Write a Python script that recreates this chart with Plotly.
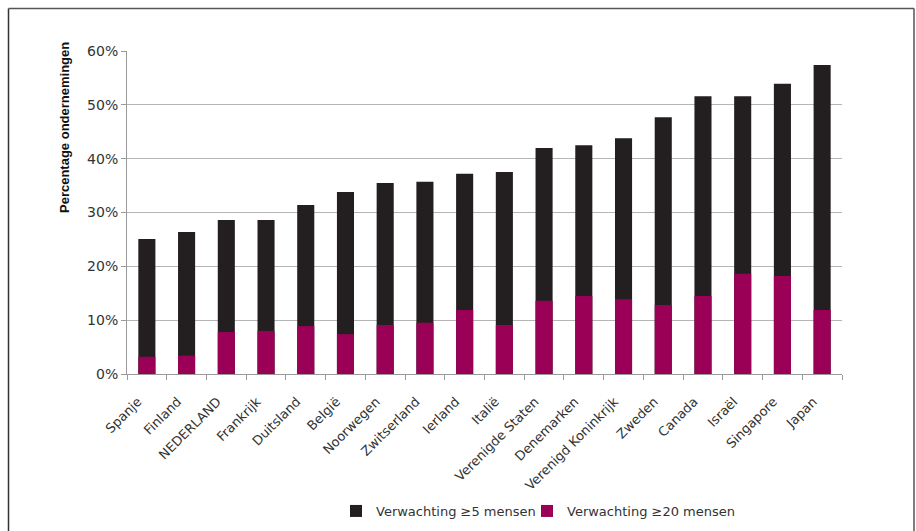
import plotly.graph_objects as go

landen = ["Spanje", "Finland", "NEDERLAND", "Frankrijk", "Duitsland", "België",
          "Noorwegen", "Zwitserland", "Ierland", "Italië", "Verenigde Staten",
          "Denemarken", "Verenigd Koninkrijk", "Zweden", "Canada", "Israël",
          "Singapore", "Japan"]
verw_5 = [25.1, 26.4, 28.6, 28.6, 31.4, 33.8, 35.5, 35.7, 37.2, 37.5, 42.0,
          42.5, 43.8, 47.7, 51.6, 51.6, 53.9, 57.4]
verw_20 = [3.2, 3.4, 7.8, 8.0, 8.9, 7.4, 9.1, 9.5, 11.9, 9.1, 13.6,
           14.5, 13.9, 12.8, 14.5, 18.6, 18.2, 11.9]
y_ticks = [0, 10, 20, 30, 40, 50, 60]
y_labels = ["0%", "10%", "20%", "30%", "40%", "50%", "60%"]

BLACK = "#231f20"
MAGENTA = "#9b0057"
FONT = "DejaVu Sans"

fig = go.Figure()
fig.add_trace(go.Bar(x=landen, y=verw_5, name="Verwachting ≥5 mensen",
                     marker=dict(color=BLACK, line=dict(width=0)),
                     legend="legend"))
fig.add_trace(go.Bar(x=landen, y=verw_20, name="Verwachting ≥20 mensen",
                     marker=dict(color=MAGENTA, line=dict(width=0)),
                     legend="legend2"))

W, H = 916, 531
# plot area in page pixels
PX0, PX1, PY0, PY1 = 127, 842, 51, 374
L, R, T, B = PX0, W - PX1, PY0, H - PY1
pw, ph = W - L - R, H - T - B


def px(x):
    return (x - PX0) / pw


def py(y):
    return (PY1 - y) / ph


leg_common = dict(orientation="h", xanchor="left", yanchor="middle",
                  font=dict(size=13, color="#333333"), itemwidth=30,
                  bgcolor="rgba(0,0,0,0)")

fig.update_layout(
    width=W, height=H,
    barmode="overlay",
    bargap=0.57,
    margin=dict(l=L, r=R, t=T, b=B, autoexpand=False),
    plot_bgcolor="white", paper_bgcolor="white",
    font=dict(family=FONT, size=12, color="#333333"),
    showlegend=True,
    legend=dict(x=px(336), y=py(511), **leg_common),
    legend2=dict(x=px(527), y=py(511), **leg_common),
    xaxis=dict(tickangle=-45, ticks="outside", tickson="boundaries",
               ticklen=5, tickcolor="#9a9a9a", showline=True,
               linecolor="#9a9a9a", linewidth=1, automargin=False,
               ticklabelstandoff=14, ticklabelshift=-9,
               tickfont=dict(size=13, color="#333333")),
    yaxis=dict(range=[0, 60], tickvals=y_ticks, ticktext=y_labels,
               ticks="outside", ticklen=5, tickcolor="#9a9a9a",
               showline=True, linecolor="#9a9a9a", linewidth=1,
               showgrid=True, gridcolor="#b5b5b5", gridwidth=1,
               zeroline=False, automargin=False,
               tickfont=dict(size=14, color="#333333")),
    shapes=[
        dict(type="line", xref="paper", yref="paper",
             x0=px(8.5), x1=px(8.5), y0=py(531), y1=py(8.5),
             line=dict(color="#333333", width=1.5)),
        dict(type="line", xref="paper", yref="paper",
             x0=px(8.5), x1=px(914), y0=py(8.5), y1=py(8.5),
             line=dict(color="#555555", width=1.5)),
        dict(type="line", xref="paper", yref="paper",
             x0=px(914), x1=px(914), y0=py(531), y1=py(8.5),
             line=dict(color="#555555", width=1.5)),
    ],
    annotations=[dict(text="<b>Percentage ondernemingen</b>",
                      xref="paper", yref="paper",
                      x=px(65), y=py(128),
                      xanchor="center", yanchor="middle", textangle=-90,
                      showarrow=False,
                      font=dict(family="Liberation Sans", size=13,
                                color="#111111"))],
)

fig.write_html("out.html",
               config={"displayModeBar": False},
               post_script="document.body.style.margin='0';"
                           "document.body.style.overflow='hidden';")
